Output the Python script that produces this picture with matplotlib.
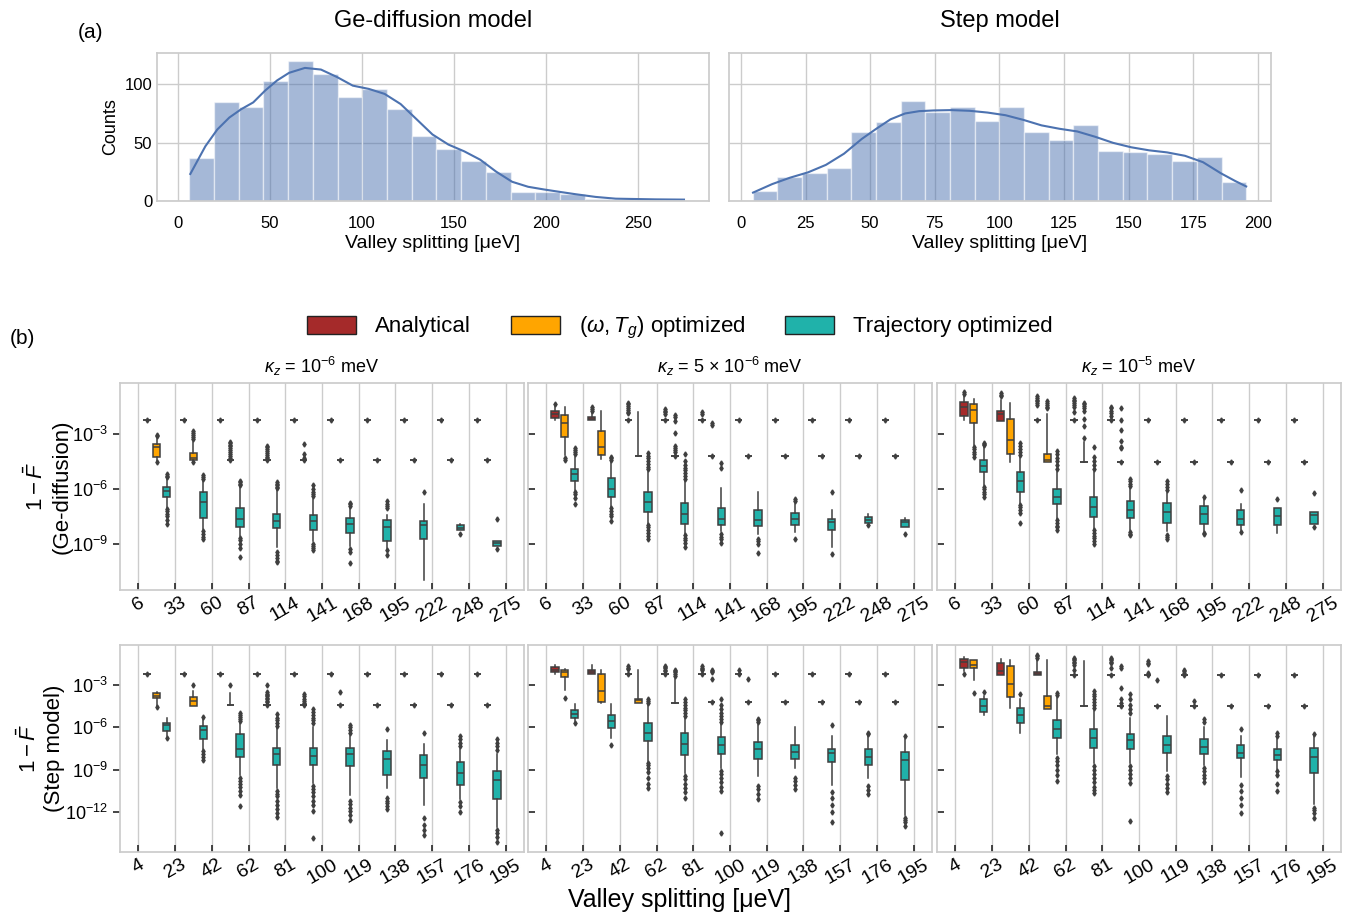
import numpy as np
import matplotlib.pyplot as plt
from matplotlib.patches import Patch
from matplotlib.ticker import LogFormatterSciNotation, NullLocator

plt.rcParams['font.family'] = ['Liberation Sans', 'DejaVu Sans']
plt.rcParams['mathtext.fontset'] = 'custom'
plt.rcParams['mathtext.rm'] = 'Liberation Sans'
plt.rcParams['mathtext.it'] = 'Liberation Sans:italic'
plt.rcParams['mathtext.bf'] = 'Liberation Sans:bold'

# ---------------- (a) histograms ----------------
GE_RANGE = (6.0, 275.0)
GE_COUNTS = [37, 85, 81, 103, 120, 109, 89, 96, 79, 56,
             45, 34, 25, 8, 8, 6, 2, 1, 1, 1]
GE_KDE_X = [6.7, 14.9, 21.4, 27.9, 34.4, 40.9, 47.4, 53.9, 60.4, 69.0, 77.7,
            86.4, 95.0, 103.7, 112.3, 121.0, 129.7, 138.3, 147.0, 155.6, 164.3,
            172.9, 181.6, 190.3, 198.9, 207.6, 216.2, 227.0, 237.9, 259.5, 275.0]
GE_KDE_Y = [23.2, 47.0, 61.4, 71.6, 78.8, 84.6, 94.8, 103.5, 110.0, 114.2, 112.8,
            106.4, 99.0, 96.2, 91.9, 83.2, 70.1, 57.1, 48.4, 42.6, 35.4,
            25.2, 16.5, 12.2, 9.9, 7.8, 5.8, 3.5, 2.0, 1.4, 1.2]

STEP_RANGE = (4.5, 195.5)
STEP_COUNTS = [9, 21, 24, 28, 59, 68, 86, 76, 81, 69,
               81, 59, 52, 65, 43, 42, 40, 34, 38, 16]
STEP_KDE_X = [4.7, 12.1, 19.0, 26.0, 32.9, 39.9, 46.8, 52.4, 57.9, 63.5, 69.0,
              74.6, 81.5, 88.5, 95.4, 102.4, 109.3, 116.3, 123.2, 130.1, 137.1,
              144.0, 151.0, 157.9, 164.9, 171.8, 178.8, 185.7, 191.3, 195.5]
STEP_KDE_Y = [7.2, 14.5, 20.0, 24.6, 31.0, 40.6, 53.3, 62.0, 70.1, 75.1, 77.1,
              77.7, 78.0, 77.4, 75.9, 73.6, 69.6, 64.9, 62.0, 59.7, 55.1,
              49.9, 46.1, 43.5, 41.7, 38.8, 33.3, 23.8, 17.1, 12.5]

# ---------------- (b) box plots, values in log10(1 - F) ----------------
GE_TICKS = ['6', '33', '60', '87', '114', '141', '168', '195', '222', '248', '275']
STEP_TICKS = ['4', '23', '42', '62', '81', '100', '119', '138', '157', '176', '195']
KAPPA_TITLES = [r'$\kappa_z$ = $10^{-6}$ meV', r'$\kappa_z$ = 5 $\times$ $10^{-6}$ meV',
                r'$\kappa_z$ = $10^{-5}$ meV']
HUES = ['Analytical', r'$(\omega, T_g)$ optimized', 'Trajectory optimized']
HUE_COLORS = ['#a52a2a', '#ffa500', '#20b2aa']

# each box: (whislo, q1, med, q3, whishi); a single number = collapsed box
GE1_ANA = [-2.24, -2.24, -2.24, -2.24, -2.24, -2.24, -2.24, -2.24, -2.24, -2.24]
GE1_ANA_FL = [[], [], [], [], [], [], [], [], [], []]
GE1_OPT = [(-4.49, -4.27, -3.71, -3.58, -3.29), (-4.49, -4.45, -4.35, -4.05, -3.44),
           -4.45, -4.45, -4.45, -4.44, -4.44, -4.44, -4.44, -4.44]
GE1_OPT_FL = [[-3.07, -3.15, -4.55], [-2.85, -2.95, -3.1, -3.2, -3.3, -4.55],
              [-3.44, -3.52, -3.6, -3.7, -3.8, -3.9, -4.0, -4.1, -4.2, -4.3],
              [-3.67, -3.75, -3.85, -3.95, -4.05, -4.15, -4.25, -4.35],
              [-3.58, -4.1, -4.3], [], [], [], [], []]
GE1_TRJ = [(-7.04, -6.47, -6.11, -5.89, -5.44), (-8.2, -7.58, -6.73, -6.2, -5.53),
           (-8.58, -8.05, -7.65, -7.02, -5.89), (-9.16, -8.15, -7.75, -7.35, -6.07),
           (-8.85, -8.22, -7.76, -7.42, -6.53), (-9.11, -8.4, -7.91, -7.58, -6.98),
           (-9.2, -8.84, -8.07, -7.69, -7.4), (-10.98, -8.75, -7.98, -7.73, -6.84),
           (-8.25, -8.25, -8.13, -7.96, -7.91), (-9.09, -9.09, -8.95, -8.84, -8.84)]
GE1_TRJ_FL = [[-5.2, -5.3, -5.38, -7.1, -7.2, -7.35, -7.5, -7.7, -7.93],
              [-5.25, -5.35, -5.45, -8.3, -8.45, -8.6, -8.71],
              [-5.58, -5.65, -5.72, -5.8, -8.7, -8.8, -9.0, -9.2, -9.71],
              [-5.65, -5.72, -5.8, -5.88, -5.95, -9.44, -9.6, -9.75, -9.9, -9.98],
              [-5.8, -6.0, -6.2, -6.3, -6.4, -9.0, -9.1, -9.2, -9.35],
              [-6.75, -6.85, -6.92, -9.25, -9.44, -10.04],
              [-6.67, -6.8, -6.95, -7.07, -9.35, -9.58],
              [-6.16], [-8.45], [-7.65, -9.29]]

GE5_ANA = [(-2.25, -2.16, -1.95, -1.75, -1.49), (-2.24, -2.24, -2.22, -2.12, -1.9),
           -2.24, -2.24, -2.24, -2.24, -2.24, -2.24, -2.24, -2.24]
GE5_ANA_FL = [[-1.4], [-1.56, -1.65, -1.75],
              [-1.31, -1.4, -1.5, -1.6, -1.7, -1.8, -1.9],
              [-1.65, -1.75, -1.85, -1.95], [-1.8, -1.95], [], [], [], [], []]
GE5_OPT = [(-4.16, -3.16, -2.45, -2.0, -1.53), (-4.38, -4.16, -3.75, -2.84, -1.76),
           (-4.2, -4.2, -4.2, -4.2, -1.84), -4.2, -4.2, -4.2, -4.2, -4.2, -4.2, -4.2]
GE5_OPT_FL = [[-4.3, -4.44], [], [],
              [-1.98, -2.1, -2.3, -2.98, -3.7, -3.8, -3.9, -4.0],
              [-2.4, -2.53], [], [], [], [], []]
GE5_TRJ = [(-6.07, -5.55, -5.2, -4.93, -4.25), (-6.98, -6.45, -6.0, -5.44, -4.56),
           (-7.89, -7.25, -6.73, -6.2, -5.07), (-8.45, -7.93, -7.35, -6.76, -5.58),
           (-8.29, -7.98, -7.62, -7.05, -5.98), (-8.44, -8.02, -7.67, -7.16, -6.16),
           (-8.35, -7.95, -7.64, -7.29, -6.84), (-9.16, -8.24, -7.8, -7.65, -7.16),
           (-7.84, -7.84, -7.67, -7.55, -7.38), (-8.05, -8.05, -7.8, -7.69, -7.6)]
GE5_TRJ_FL = [[-3.8, -3.9, -4.0, -4.1, -6.16, -6.3, -6.5, -6.8],
              [-4.25, -4.35, -4.45, -7.07, -7.2, -7.35, -7.5, -7.76],
              [-4.07, -4.2, -4.35, -4.5, -4.65, -4.8, -4.95, -7.98, -8.1, -8.25, -8.4, -8.55, -8.75],
              [-4.1, -4.5, -4.7, -4.85, -5.0, -5.15, -5.3, -5.45, -8.53, -8.65, -8.8, -8.95, -9.16],
              [-4.62, -4.89, -8.44, -8.6, -8.75, -8.93],
              [-8.71, -8.85, -9.0, -9.49], [-6.53, -6.65, -8.71],
              [-6.16, -9.56], [-7.98], [-8.44]]

GE10_ANA = [(-2.25, -2.05, -1.56, -1.29, -0.98), (-2.29, -2.29, -1.95, -1.75, -1.16),
            -2.25, -2.25, -2.25, -2.25, -2.25, -2.25, -2.25, -2.25]
GE10_ANA_FL = [[-0.75, -0.85], [-0.8, -0.9, -0.98],
               [-0.98, -1.05, -1.15, -1.25, -1.35, -1.45],
               [-1.07, -1.15, -1.25, -1.35, -1.45, -1.55, -1.8],
               [-1.53, -1.62, -1.75, -1.9, -2.07], [], [], [], [], []]
GE10_OPT = [(-3.62, -2.44, -1.71, -1.4, -1.13), (-4.56, -4.11, -3.35, -2.22, -1.31),
            (-4.56, -4.53, -4.44, -4.11, -1.95), (-4.53, -4.53, -4.53, -4.53, -3.44),
            -4.53, -4.53, -4.53, -4.53, -4.53, -4.53]
GE10_OPT_FL = [[-3.71, -3.85, -4.0, -4.1, -4.25], [],
               [-1.25, -1.35, -1.45, -1.55, -1.62],
               [-1.31, -1.4, -1.5, -1.6, -1.75, -2.2, -2.6, -3.25],
               [-1.62, -2.24, -2.8, -3.4, -3.71, -3.8], [], [], [], [], []]
GE10_TRJ = [(-5.8, -5.09, -4.75, -4.42, -3.69), (-6.8, -6.16, -5.58, -5.07, -4.25),
            (-7.62, -6.82, -6.47, -6.0, -5.07), (-8.16, -7.51, -6.98, -6.47, -5.07),
            (-8.25, -7.58, -7.16, -6.64, -5.98), (-8.31, -7.85, -7.25, -6.78, -6.22),
            (-8.31, -7.89, -7.35, -6.95, -6.56), (-8.25, -7.95, -7.65, -7.16, -6.8),
            (-8.38, -7.95, -7.47, -7.02, -7.02), (-7.93, -7.93, -7.44, -7.24, -7.24)]
GE10_TRJ_FL = [[-3.49, -3.55, -3.62, -5.89, -6.0, -6.15, -6.3, -6.44],
               [-3.53, -3.7, -3.85, -4.0, -4.15, -6.89, -7.0, -7.15, -7.3, -7.85],
               [-3.95, -4.1, -4.3, -4.5, -4.7, -4.9, -7.71, -7.85, -8.0, -8.1, -8.25],
               [-3.71, -4.25, -4.5, -4.7, -4.9, -8.25, -8.4, -8.55, -8.7, -8.85, -8.98],
               [-5.47, -5.6, -5.75, -5.85, -8.35, -8.45, -8.53],
               [-5.58, -5.75, -5.9, -6.07, -8.49, -8.6, -8.71],
               [-6.45, -8.4, -8.45], [-6.04, -8.35], [-6.58], [-6.25, -8.07]]

ST1_ANA = [-2.22, -2.22, -2.22, -2.22, -2.22, -2.22, -2.22, -2.22, -2.22, -2.22]
ST1_ANA_FL = [[], [], [], [], [], [], [], [], [], []]
ST1_OPT = [(-4.49, -3.94, -3.78, -3.59, -3.47), (-4.49, -4.49, -4.16, -3.83, -3.43),
           (-4.42, -4.42, -4.42, -4.42, -3.59), -4.42, -4.42, -4.42, -4.42, -4.42,
           -4.42, -4.42]
ST1_OPT_FL = [[-4.55], [-3.0], [-3.0],
              [-3.0, -3.5, -3.6, -3.7, -3.8, -3.9, -4.0, -4.1, -4.2],
              [-3.66, -3.8, -3.95, -4.1, -4.25, -4.37], [-3.5], [], [], [], []]
ST1_TRJ = [(-6.61, -6.26, -5.86, -5.67, -5.34), (-7.56, -6.8, -6.19, -5.91, -5.43),
           (-9.4, -8.08, -7.51, -6.45, -5.67), (-10.28, -8.65, -7.91, -7.44, -6.02),
           (-9.92, -8.69, -8.03, -7.44, -5.95), (-10.8, -8.74, -7.87, -7.49, -6.61),
           (-10.28, -9.4, -8.27, -7.7, -6.92), (-11.53, -9.61, -8.69, -7.94, -7.16),
           (-11.06, -10.09, -9.21, -8.46, -7.56), (-13.11, -11.06, -9.73, -9.12, -7.91)]
ST1_TRJ_FL = [[-6.73], [-5.27, -7.68, -7.9, -8.1, -8.32],
              [-4.96, -5.1, -5.25, -5.4, -5.55, -9.57, -9.8, -10.0, -10.2, -10.5, -10.8, -11.58],
              [-5.08, -5.3, -5.5, -5.7, -5.9, -10.51, -10.7, -10.9, -11.2, -11.5, -11.8, -12.05, -12.33],
              [-4.72, -4.9, -5.1, -5.3, -5.5, -5.7, -10.16, -10.4, -10.6, -10.9, -11.2, -11.5, -11.93, -13.89],
              [-5.86, -6.0, -6.2, -6.4, -11.22, -11.45, -11.7, -11.95, -12.2, -12.57],
              [-6.09, -10.98, -11.2, -11.4, -11.6, -11.81],
              [-6.38, -12.47, -12.9, -13.3, -13.65],
              [-6.61, -6.85, -7.1, -7.35, -11.3, -11.6, -12.0],
              [-6.85, -7.1, -7.35, -7.6, -13.28, -13.5, -13.8, -14.17]]

ST5_ANA = [(-2.2, -2.08, -1.89, -1.7, -1.56), (-2.24, -2.24, -2.06, -1.89, -1.56),
           -2.22, -2.22, -2.22, -2.22, -2.22, -2.22, -2.22, -2.22]
ST5_ANA_FL = [[], [], [-1.65, -1.75, -1.85], [-1.61, -1.7, -1.8, -1.9, -2.0],
              [-1.65, -1.75, -1.85, -1.95], [-1.89], [], [], [], []]
ST5_OPT = [(-3.35, -2.43, -2.08, -1.89, -1.84), (-4.25, -4.18, -3.43, -2.24, -1.89),
           (-4.25, -4.25, -4.09, -3.97, -1.89), (-4.25, -4.25, -4.25, -4.25, -2.6),
           -4.2, -4.2, -4.2, -4.2, -4.2, -4.2]
ST5_OPT_FL = [[-3.92], [], [], [-1.89, -2.0, -2.1, -2.2, -2.36],
              [-1.9, -2.0, -2.1, -2.6], [-2.55], [], [], [], []]
ST5_TRJ = [(-5.55, -5.31, -5.03, -4.77, -4.37), (-6.73, -6.02, -5.55, -5.13, -4.37),
           (-8.39, -6.97, -6.43, -5.67, -4.37), (-9.21, -7.96, -7.16, -6.43, -5.31),
           (-8.86, -7.87, -7.28, -6.69, -5.79), (-9.45, -8.22, -7.56, -7.02, -5.86),
           (-8.86, -8.22, -7.75, -7.28, -5.95), (-10.11, -8.46, -7.82, -7.51, -6.61),
           (-9.57, -8.69, -8.08, -7.51, -6.61), (-12.24, -9.73, -8.32, -7.72, -6.8)]
ST5_TRJ_FL = [[-5.7], [-7.28],
              [-4.0, -4.15, -4.3, -8.5, -8.7, -8.9, -9.2, -9.6, -10.0, -10.28],
              [-4.0, -4.2, -4.4, -4.6, -4.8, -5.0, -5.2, -9.45, -9.7, -10.0, -10.3, -10.6, -10.98],
              [-4.0, -4.4, -4.7, -5.0, -5.2, -5.4, -5.6, -9.1, -9.3, -9.6, -9.9, -10.2, -10.51, -13.47],
              [-5.4, -5.5, -5.65, -10.16, -10.4, -10.7, -11.06],
              [-9.57, -9.8, -10.1, -10.39],
              [-5.86, -10.58, -11.0, -11.5, -12.0, -12.71],
              [-6.4, -6.5, -10.16, -10.45, -10.75],
              [-6.6, -12.4, -12.55, -12.7, -12.99]]

ST10_ANA = [(-2.01, -1.77, -1.37, -1.13, -1.02), (-2.29, -2.29, -2.01, -1.42, -1.11),
            (-2.31, -2.31, -2.2, -2.1, -1.2), -2.29, -2.29, -2.29, -2.29, -2.29,
            -2.29, -2.29]
ST10_ANA_FL = [[-2.24], [], [-0.83, -0.95, -1.05],
               [-1.06, -1.15, -1.25, -1.35, -1.45, -1.55, -1.89],
               [-1.06, -1.15, -1.25, -1.35, -1.45, -1.77],
               [-1.3, -1.4, -1.5, -2.13], [-1.89, -2.0, -2.13], [], [], []]
ST10_OPT = [(-2.67, -1.77, -1.54, -1.25, -1.25), (-4.61, -3.85, -2.95, -1.61, -1.25),
            (-4.68, -4.68, -4.49, -3.78, -1.18), (-4.49, -4.49, -4.49, -4.49, -1.3),
            -4.49, -4.49, -4.49, -4.49, -4.49, -4.49]
ST10_OPT_FL = [[-3.54], [], [], [], [-1.65, -1.77, -3.19, -4.0, -4.3],
               [-2.67], [-4.13], [], [], []]
ST10_TRJ = [(-5.15, -4.91, -4.49, -4.02, -3.78), (-6.38, -5.67, -5.15, -4.65, -3.97),
            (-7.91, -6.73, -6.14, -5.5, -3.9), (-8.55, -7.46, -6.73, -6.14, -4.84),
            (-8.5, -7.56, -6.9, -6.45, -5.31), (-9.1, -7.8, -7.28, -6.61, -5.2),
            (-8.69, -7.91, -7.37, -6.85, -5.95), (-9.5, -8.15, -7.8, -7.28, -6.61),
            (-8.98, -8.32, -7.96, -7.51, -6.85), (-11.46, -9.26, -8.1, -7.44, -6.61)]
ST10_TRJ_FL = [[-3.5], [-3.66],
               [-3.55, -3.7, -8.15, -8.4, -8.7, -9.0, -9.4, -9.8],
               [-3.43, -3.6, -3.8, -4.0, -4.2, -4.4, -4.6, -8.74, -9.0, -9.3, -9.6, -9.9, -10.2, -10.45, -10.68],
               [-3.66, -4.0, -4.4, -4.7, -5.0, -8.74, -9.0, -9.3, -9.6, -9.97, -12.64],
               [-9.45, -9.7, -10.0, -10.3, -10.58],
               [-5.4, -5.6, -8.86, -9.1, -9.4, -9.6, -9.87],
               [-6.09, -10.11, -10.5, -11.0, -11.5, -12.1],
               [-6.4, -6.6, -9.1, -9.4, -10.0, -10.51],
               [-6.5, -11.69, -11.9, -12.1, -12.4]]

PANELS = [
    [[(GE1_ANA, GE1_ANA_FL), (GE1_OPT, GE1_OPT_FL), (GE1_TRJ, GE1_TRJ_FL)],
     [(GE5_ANA, GE5_ANA_FL), (GE5_OPT, GE5_OPT_FL), (GE5_TRJ, GE5_TRJ_FL)],
     [(GE10_ANA, GE10_ANA_FL), (GE10_OPT, GE10_OPT_FL), (GE10_TRJ, GE10_TRJ_FL)]],
    [[(ST1_ANA, ST1_ANA_FL), (ST1_OPT, ST1_OPT_FL), (ST1_TRJ, ST1_TRJ_FL)],
     [(ST5_ANA, ST5_ANA_FL), (ST5_OPT, ST5_OPT_FL), (ST5_TRJ, ST5_TRJ_FL)],
     [(ST10_ANA, ST10_ANA_FL), (ST10_OPT, ST10_OPT_FL), (ST10_TRJ, ST10_TRJ_FL)]],
]
ROW_TICKS = [GE_TICKS, STEP_TICKS]
ROW_LABELS = ['$1-\\bar{F}$\n(Ge-diffusion)', '$1-\\bar{F}$\n(Step model)']
ROW_YTICKS = [[1e-3, 1e-6, 1e-9], [1e-3, 1e-6, 1e-9, 1e-12]]
ROW_YLIM = [(10 ** -11.5, 10 ** -0.25), (10 ** -14.85, 10 ** -0.15)]

GRID = '#cccccc'
LINE = '#3f3f3f'
BLUE = '#4c72b0'


def make_stats(boxes, fliers):
    stats = []
    for b, fl in zip(boxes, fliers):
        fl = list(fl)
        if np.isscalar(b):
            # collapsed box: all samples sit on one value
            fl = fl + [b]
            b = (b, b, b, b, b)
        lo, q1, med, q3, hi = b
        stats.append(dict(whislo=10 ** lo, q1=10 ** q1, med=10 ** med, q3=10 ** q3,
                          whishi=10 ** hi, fliers=10 ** np.array(fl, dtype=float)))
    return stats


def style_frame(ax):
    for s in ax.spines.values():
        s.set_color(GRID)
        s.set_linewidth(1.25)
    ax.set_axisbelow(True)


W, H = 1349, 916
fig = plt.figure(figsize=(W / 100, H / 100), dpi=100)


def box_px(l, t, r, b):
    return [l / W, 1 - b / H, (r - l) / W, (b - t) / H]


# ---- histograms ----
h1 = fig.add_axes(box_px(157, 53, 709, 201))
h2 = fig.add_axes(box_px(729, 53, 1271, 201))
hist_specs = [(h1, GE_RANGE, GE_COUNTS, GE_KDE_X, GE_KDE_Y, 'Ge-diffusion model'),
              (h2, STEP_RANGE, STEP_COUNTS, STEP_KDE_X, STEP_KDE_Y, 'Step model')]
for ax, rng, counts, kx, ky, title in hist_specs:
    edges = np.linspace(rng[0], rng[1], len(counts) + 1)
    ax.bar(edges[:-1], counts, width=np.diff(edges), align='edge',
           color=BLUE, alpha=0.5, edgecolor='white', linewidth=1.0)
    ax.plot(kx, ky, color=BLUE, lw=1.5)
    style_frame(ax)
    ax.grid(True, color=GRID, lw=1)
    ax.tick_params(axis='x', length=0, labelsize=12, pad=11)
    ax.tick_params(axis='y', length=0, labelsize=12, pad=3.5)
    ax.set_xlabel('Valley splitting [μeV]', fontsize=14, labelpad=3)
    ax.set_title(title, fontsize=17, pad=19)
    ax.set_ylim(0, 127)
    ax.set_yticks([0, 50, 100])
h1.set_xlim(-11.4, 288.6)
h1.set_xticks([0, 50, 100, 150, 200, 250])
h1.set_ylabel('Counts', fontsize=13, labelpad=4)
h2.set_xlim(-4.6, 205.1)
h2.set_xticks([0, 25, 50, 75, 100, 125, 150, 175, 200])
h2.set_yticklabels([])

fig.text(78 / W, 1 - 32 / H, '(a)', fontsize=15, va='center', ha='left')
fig.text(10 / W, 1 - 338 / H, '(b)', fontsize=15, va='center', ha='left')

# ---- box plots ----
col_px = [(120, 524), (528, 932), (937, 1341)]
row_px = [(383, 590), (645, 852)]
offsets = [-0.267, 0.0, 0.267]
base = np.arange(10)

for r in range(2):
    for c in range(3):
        l, rr = col_px[c]
        t, b = row_px[r]
        ax = fig.add_axes(box_px(l, t, rr, b))
        ax.set_yscale('log')
        for h in range(3):
            boxes, fliers = PANELS[r][c][h]
            ax.bxp(make_stats(boxes, fliers), positions=base + offsets[h], widths=0.2,
                   patch_artist=True, showcaps=False, manage_ticks=False,
                   boxprops=dict(facecolor=HUE_COLORS[h], edgecolor=LINE, linewidth=1.1),
                   whiskerprops=dict(color=LINE, linewidth=1.1),
                   medianprops=dict(color=LINE, linewidth=1.1),
                   flierprops=dict(marker='d', markersize=2.6, markerfacecolor=LINE,
                                   markeredgecolor=LINE, linestyle='none'))
        ax.set_xlim(-1, 10)
        ax.set_xticks(np.arange(11) - 0.5)
        ax.set_xticklabels(ROW_TICKS[r], rotation=30, fontsize=14)
        ax.set_ylim(*ROW_YLIM[r])
        ax.set_yticks(ROW_YTICKS[r])
        ax.yaxis.set_minor_locator(NullLocator())
        ax.yaxis.set_major_formatter(LogFormatterSciNotation())
        style_frame(ax)
        ax.grid(True, axis='x', color=GRID, lw=1)
        ax.tick_params(axis='x', direction='in', length=5, width=1.2, color='#262626',
                       pad=3)
        if c == 0:
            ax.tick_params(axis='y', direction='out', length=5, width=1.2,
                           color='#262626', labelsize=13)
            ax.set_ylabel(ROW_LABELS[r], fontsize=16, labelpad=0)
        else:
            ax.tick_params(axis='y', direction='in', length=5, width=1.2,
                           color='#262626', labelleft=False)
        if r == 0:
            ax.set_title(KAPPA_TITLES[c], fontsize=13, pad=7)

handles = [Patch(facecolor=HUE_COLORS[i], edgecolor='#222222', linewidth=1.0, label=HUES[i])
           for i in range(3)]
fig.legend(handles=handles, loc='center', bbox_to_anchor=(680 / W, 1 - 328 / H), ncol=3,
           fontsize=16, frameon=False, handlelength=2.2, handleheight=0.85,
           handletextpad=0.85, columnspacing=1.8)

fig.text(680 / W, 1 - 900 / H, 'Valley splitting [μeV]', fontsize=18, ha='center',
         va='center')

fig.savefig('out.png', dpi=100)
